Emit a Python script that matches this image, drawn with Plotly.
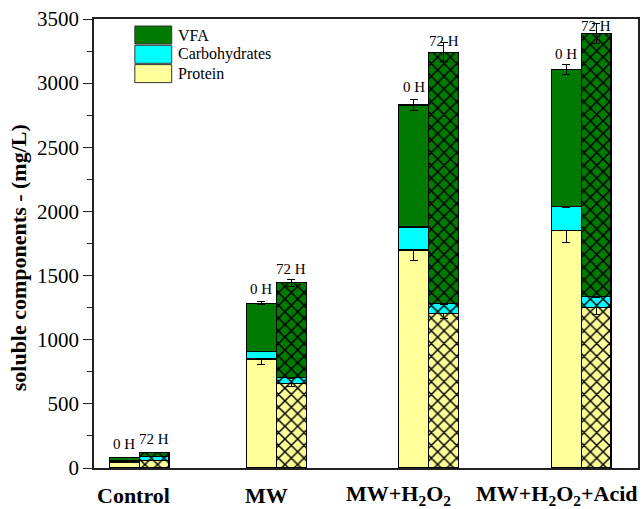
import plotly.graph_objects as go
import numpy as np

# ---- data ----
groups = ["Control", "MW", "MW+H<sub>2</sub>O<sub>2</sub>", "MW+H<sub>2</sub>O<sub>2</sub>+Acid"]
group_pos = [1.1, 2.0, 3.0, 4.0]
label_pos = [1.06, 1.935, 2.80, 3.84]

protein_0h = [40, 850, 1700, 1850]
carb_0h = [15, 60, 178, 186]
vfa_0h = [25, 375, 952, 1069]
protein_0h_err = [0, 40, 85, 90]
carb_0h_err = [0, 3, 5, 5]
vfa_0h_err = [0, 10, 40, 37]

protein_72h = [60, 660, 1205, 1250]
carb_72h = [28, 48, 76, 88]
vfa_72h = [34, 735, 1959, 2050]
protein_72h_err = [0, 22, 40, 50]
carb_72h_err = [0, 8, 5, 8]
vfa_72h_err = [0, 25, 75, 80]

time_labels = ["0 H", "72 H"]
components = ["VFA", "Carbohydrates", "Protein"]

# ---- style ----
col = {"Protein": "#FFFF99", "Carbohydrates": "#00FFFF", "VFA": "#007A00"}
FONT = "Liberation Serif"
bw = 0.196
label_shift = [[14, 14, 18, 16], [13, 14, 11, 7]]

pos = np.array(group_pos)
x0 = pos - bw / 2
x72 = pos + bw / 2

fig = go.Figure()

def add(x, y, err, name, hatch):
    m = dict(color=col[name], line=dict(color="black", width=1.2))
    if hatch:
        m["pattern"] = dict(shape="x", fgcolor="black", bgcolor=col[name], size=9, solidity=0.3,
                            fillmode="replace")
    fig.add_trace(go.Bar(
        x=x, y=y, width=bw, name=name, marker=m, showlegend=False,
        error_y=dict(type="data", array=err, visible=True, color="black", thickness=1, width=4),
    ))

add(x0, protein_0h, protein_0h_err, "Protein", False)
add(x0, carb_0h, carb_0h_err, "Carbohydrates", False)
add(x0, vfa_0h, vfa_0h_err, "VFA", False)
add(x72, protein_72h, protein_72h_err, "Protein", True)
add(x72, carb_72h, carb_72h_err, "Carbohydrates", True)
add(x72, vfa_72h, vfa_72h_err, "VFA", True)

tot0 = np.array(protein_0h) + np.array(carb_0h) + np.array(vfa_0h)
tot72 = np.array(protein_72h) + np.array(carb_72h) + np.array(vfa_72h)

W, H = 643, 509
ml, mr, mt, mb = 94, 3, 19, 41
pw, ph = W - ml - mr, H - mt - mb

def px_x(p):
    return (p - ml) / pw

def px_y(p):
    return (H - mb - p) / ph

ann = []
for i in range(len(groups)):
    for j, (xx, tt) in enumerate([(x0[i], tot0[i]), (x72[i], tot72[i])]):
        ann.append(dict(x=xx, y=tt, xref="x", yref="y", text=time_labels[j], showarrow=False,
                        xanchor="center", yanchor="middle", yshift=label_shift[j][i],
                        font=dict(family=FONT, size=15, color="black")))
    ann.append(dict(x=label_pos[i], y=0, xref="x", yref="paper", text="<b>" + groups[i] + "</b>",
                    showarrow=False, xanchor="center", yanchor="middle", yshift=-27,
                    font=dict(family=FONT, size=22, color="black")))

# y-axis title
ann.append(dict(x=px_x(18), y=px_y(258), xref="paper", yref="paper",
                text="<b>soluble components - (mg/L)</b>", textangle=-90, showarrow=False,
                xanchor="center", yanchor="middle", font=dict(family=FONT, size=22, color="black")))

# manual legend
shapes = []
for k, name in enumerate(components):
    ytop = 26 + k * 19.3
    shapes.append(dict(type="rect", xref="paper", yref="paper", x0=px_x(135), x1=px_x(172),
                       y0=px_y(ytop + 18), y1=px_y(ytop),
                       fillcolor=col[name], line=dict(color="#333", width=1)))
    ann.append(dict(x=px_x(176), y=px_y(ytop + 9), xref="paper", yref="paper", text=name, showarrow=False,
                    xanchor="left", yanchor="middle", font=dict(family=FONT, size=16, color="black")))

fig.update_layout(
    width=W, height=H, margin=dict(l=ml, r=mr, t=mt, b=mb),
    barmode="stack", plot_bgcolor="white", paper_bgcolor="white",
    annotations=ann, shapes=shapes,
    font=dict(family=FONT, color="black"),
)
fig.update_xaxes(range=[0.804, 4.3725], showticklabels=False, ticks="", showgrid=False, zeroline=False,
                 showline=True, linecolor="#222", linewidth=1.5, mirror=True)
fig.update_yaxes(range=[0, 3500], dtick=500, tick0=0, ticks="outside", ticklen=9, tickwidth=1.3, tickcolor="#222",
                 minor=dict(ticks="outside", ticklen=5, dtick=250, tickcolor="#222", tickwidth=1.2, showgrid=False),
                 showgrid=False, zeroline=False, showline=True, linecolor="#222", linewidth=1.5, mirror=True,
                 tickfont=dict(family=FONT, size=21, color="black"))

fig.write_html("out.html")
